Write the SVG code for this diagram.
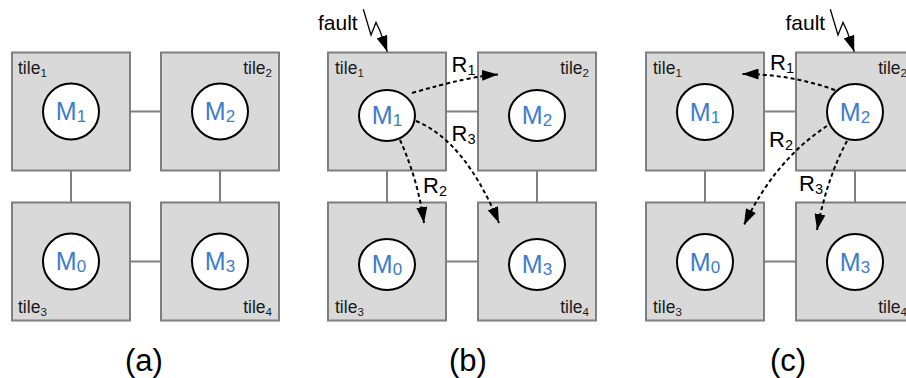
<svg xmlns="http://www.w3.org/2000/svg" width="906" height="378" viewBox="0 0 906 378">
<style>
.tile{fill:#d9d9d9;stroke:#7f7f7f;stroke-width:2}
.mod{fill:#fff;stroke:#000;stroke-width:2}
.link{stroke:#7f7f7f;stroke-width:2;fill:none}
text{font-family:"Liberation Sans",Arial,sans-serif}
.mlab{font-size:25px;fill:#3d7ccc;text-anchor:middle}
.msub{font-size:17px}
.tlab{font-size:17.5px;fill:#1a1a1a}
.tsub{font-size:11.5px}
.end{text-anchor:end}
.route{fill:none;stroke:#000;stroke-width:2;stroke-dasharray:4 3;marker-end:url(#ah)}
.fault{fill:none;stroke:#000;stroke-width:1.3;marker-end:url(#ah)}
.rlab{font-size:22px;fill:#000}
.rsub{font-size:14.5px}
.flab{font-size:21px;fill:#000}
.cap{font-size:31px;fill:#000;text-anchor:middle}
</style>
<defs>
<marker id="ah" markerUnits="userSpaceOnUse" markerWidth="16" markerHeight="11" refX="16" refY="5.5" orient="auto" viewBox="0 0 16 11">
<path d="M0,0 L16,5.5 L0,11 z" fill="#000"/>
</marker>
</defs>

<!-- connectors -->
<g id="connectors">
<line class="link" x1="130" y1="111.5" x2="161" y2="111.5"/>
<line class="link" x1="130" y1="261.5" x2="161" y2="261.5"/>
<line class="link" x1="71" y1="170.5" x2="71" y2="202.5"/>
<line class="link" x1="220" y1="170.5" x2="220" y2="202.5"/>
<line class="link" x1="446" y1="111.5" x2="478" y2="111.5"/>
<line class="link" x1="446" y1="261.5" x2="478" y2="261.5"/>
<line class="link" x1="387" y1="170.5" x2="387" y2="202.5"/>
<line class="link" x1="537" y1="170.5" x2="537" y2="202.5"/>
<line class="link" x1="764" y1="111.5" x2="796" y2="111.5"/>
<line class="link" x1="764" y1="261.5" x2="796" y2="261.5"/>
<line class="link" x1="705" y1="170.5" x2="705" y2="202.5"/>
<line class="link" x1="855" y1="170.5" x2="855" y2="202.5"/>
</g>

<!-- panel (a) -->
<g id="a-tile1"><rect class="tile" x="12" y="52.5" width="118" height="118"/><circle class="mod" cx="71" cy="111.5" r="28"/>
<text class="tlab" x="18" y="73.5">tile<tspan class="tsub" dy="3">1</tspan></text>
<text class="mlab" x="71" y="120">M<tspan class="msub" dy="2">1</tspan></text></g>
<g id="a-tile2"><rect class="tile" x="161" y="52.5" width="118" height="118"/><circle class="mod" cx="220" cy="111.5" r="28"/>
<text class="tlab end" x="272" y="73.5">tile<tspan class="tsub" dy="3">2</tspan></text>
<text class="mlab" x="220" y="120">M<tspan class="msub" dy="2">2</tspan></text></g>
<g id="a-tile3"><rect class="tile" x="12" y="202.5" width="118" height="118"/><circle class="mod" cx="71" cy="261.5" r="28"/>
<text class="tlab" x="18" y="313">tile<tspan class="tsub" dy="3">3</tspan></text>
<text class="mlab" x="71" y="270">M<tspan class="msub" dy="2">0</tspan></text></g>
<g id="a-tile4"><rect class="tile" x="161" y="202.5" width="118" height="118"/><circle class="mod" cx="220" cy="261.5" r="28"/>
<text class="tlab end" x="272" y="313">tile<tspan class="tsub" dy="3">4</tspan></text>
<text class="mlab" x="220" y="270">M<tspan class="msub" dy="2">3</tspan></text></g>

<!-- panel (b) -->
<g id="b-tile1"><rect class="tile" x="328" y="52.5" width="118" height="118"/><ellipse class="mod" cx="387" cy="115.5" rx="28" ry="25.5"/>
<text class="tlab" x="335" y="73.5">tile<tspan class="tsub" dy="3">1</tspan></text>
<text class="mlab" x="387" y="124">M<tspan class="msub" dy="2">1</tspan></text></g>
<g id="b-tile2"><rect class="tile" x="478" y="52.5" width="118" height="118"/><ellipse class="mod" cx="537" cy="115.5" rx="28" ry="25.5"/>
<text class="tlab end" x="589" y="73.5">tile<tspan class="tsub" dy="3">2</tspan></text>
<text class="mlab" x="537" y="124">M<tspan class="msub" dy="2">2</tspan></text></g>
<g id="b-tile3"><rect class="tile" x="328" y="202.5" width="118" height="118"/><ellipse class="mod" cx="387" cy="264.5" rx="28" ry="25.5"/>
<text class="tlab" x="335" y="313">tile<tspan class="tsub" dy="3">3</tspan></text>
<text class="mlab" x="387" y="273">M<tspan class="msub" dy="2">0</tspan></text></g>
<g id="b-tile4"><rect class="tile" x="478" y="202.5" width="118" height="118"/><ellipse class="mod" cx="537" cy="264.5" rx="28" ry="25.5"/>
<text class="tlab end" x="589" y="313">tile<tspan class="tsub" dy="3">4</tspan></text>
<text class="mlab" x="537" y="273">M<tspan class="msub" dy="2">3</tspan></text></g>

<!-- panel (c) -->
<g id="c-tile1"><rect class="tile" x="646" y="52.5" width="118" height="118"/><circle class="mod" cx="705" cy="112" r="28"/>
<text class="tlab" x="653" y="73.5">tile<tspan class="tsub" dy="3">1</tspan></text>
<text class="mlab" x="705" y="120.5">M<tspan class="msub" dy="2">1</tspan></text></g>
<g id="c-tile2"><rect class="tile" x="796" y="52.5" width="118" height="118"/><circle class="mod" cx="855" cy="112" r="28"/>
<text class="tlab end" x="907" y="73.5">tile<tspan class="tsub" dy="3">2</tspan></text>
<text class="mlab" x="855" y="120.5">M<tspan class="msub" dy="2">2</tspan></text></g>
<g id="c-tile3"><rect class="tile" x="646" y="202.5" width="118" height="118"/><circle class="mod" cx="705" cy="262" r="28"/>
<text class="tlab" x="653" y="313">tile<tspan class="tsub" dy="3">3</tspan></text>
<text class="mlab" x="705" y="270.5">M<tspan class="msub" dy="2">0</tspan></text></g>
<g id="c-tile4"><rect class="tile" x="796" y="202.5" width="118" height="118"/><circle class="mod" cx="855" cy="262" r="28"/>
<text class="tlab end" x="907" y="313">tile<tspan class="tsub" dy="3">4</tspan></text>
<text class="mlab" x="855" y="270.5">M<tspan class="msub" dy="2">3</tspan></text></g>

<!-- routes -->
<g id="routes">
<path class="route" d="M412,93 Q470,76 498,74.5"/>
<path class="route" d="M400,140 Q418,180 424,223"/>
<path class="route" d="M416,121 Q465,141 499,223"/>
<path class="route" d="M835,90 Q790,74 742.5,74"/>
<path class="route" d="M827,126 Q775,160 744,225"/>
<path class="route" d="M847,141 Q827,178 817,230"/>
<path class="fault" d="M363.3,9.3 L371,35 L376,22.5 L380,31 L387.3,51.7"/>
<path class="fault" d="M830.3,9.3 L838,35 L843,22.5 L847,31 L854.3,51.7"/>
</g>

<g id="labels">
<text class="flab" x="318" y="29.5">fault</text>
<text class="flab" x="785.5" y="29.5">fault</text>
<text class="rlab" x="451.5" y="71.5">R<tspan class="rsub" dy="3">1</tspan></text>
<text class="rlab" x="451.5" y="141">R<tspan class="rsub" dy="3">3</tspan></text>
<text class="rlab" x="423" y="193">R<tspan class="rsub" dy="3">2</tspan></text>
<text class="rlab" x="770" y="70">R<tspan class="rsub" dy="3">1</tspan></text>
<text class="rlab" x="769" y="146.5">R<tspan class="rsub" dy="3">2</tspan></text>
<text class="rlab" x="799" y="191">R<tspan class="rsub" dy="3">3</tspan></text>
<text class="cap" x="144" y="371">(a)</text>
<text class="cap" x="468" y="371">(b)</text>
<text class="cap" x="788" y="371">(c)</text>
</g>
</svg>
